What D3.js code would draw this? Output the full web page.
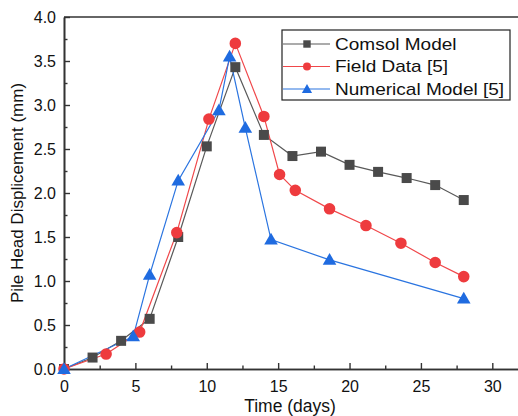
<!DOCTYPE html>
<html>
<head>
<meta charset="utf-8">
<script src="https://cdn.jsdelivr.net/npm/d3@7"></script>
<style>
  body { margin: 0; background: #fff; }
  text { font-family: "Liberation Sans", Arial, sans-serif; }
</style>
</head>
<body>
<div class="chart__container"></div>
<script>
// data
const comsolDays = [0, 2, 4, 6, 8, 10, 12, 14, 16, 18, 20, 22, 24, 26, 28];
const comsolDisp = [0, 0.13, 0.32, 0.57, 1.50, 2.53, 3.43, 2.66, 2.42, 2.47, 2.32, 2.24, 2.17, 2.09, 1.92];

const fieldDays = [0, 2.95, 5.3, 7.9, 10.15, 12, 14, 15.1, 16.2, 18.6, 21.15, 23.6, 26, 28];
const fieldDisp = [0, 0.17, 0.42, 1.55, 2.84, 3.70, 2.87, 2.21, 2.03, 1.82, 1.63, 1.43, 1.21, 1.05];

const numDays = [0, 4.85, 6, 8, 10.85, 11.6, 12.7, 14.5, 18.6, 28];
const numDisp = [0, 0.37, 1.07, 2.14, 2.94, 3.55, 2.74, 1.47, 1.24, 0.80];

const seriesNames = ["Comsol Model", "Field Data [5]", "Numerical Model [5]"];
const xTicks = [0, 5, 10, 15, 20, 25, 30];
const yTicks = [0, 0.5, 1.0, 1.5, 2.0, 2.5, 3.0, 3.5, 4.0];

const W = 518, H = 416;
const margin = { top: 17, right: 0, bottom: 47, left: 64 };

const x = d3.scaleLinear().domain([0, 31.8]).range([margin.left, W - margin.right]);
const y = d3.scaleLinear().domain([0, 4]).range([H - margin.bottom, margin.top]);

const svg = d3.select(".chart__container")
  .append("svg")
  .attr("width", W)
  .attr("height", H);

const series = [
  { name: seriesNames[0], xs: comsolDays, ys: comsolDisp, line: "#595959", fill: "#4a4a4a", shape: d3.symbolSquare, size: 100, legSize: 55 },
  { name: seriesNames[1], xs: fieldDays, ys: fieldDisp, line: "#f0474a", fill: "#ee3b3e", shape: d3.symbolCircle, size: 105, legSize: 50 },
  { name: seriesNames[2], xs: numDays, ys: numDisp, line: "#2a74e0", fill: "#1f6be0", shape: d3.symbolTriangle, size: 80, legSize: 45 }
];

// axes (ticks point inward)
const axisColor = "#333";
const xAxis = svg.append("g")
  .attr("transform", `translate(0,${y(0)})`)
  .call(d3.axisBottom(x).tickValues(xTicks).tickFormat(d3.format("d")).tickSizeInner(-6).tickSizeOuter(0).tickPadding(12));
const xMinor = svg.append("g")
  .attr("transform", `translate(0,${y(0)})`)
  .call(d3.axisBottom(x).tickValues(d3.range(2.5, 31, 5)).tickFormat("").tickSizeInner(-3.5).tickSizeOuter(0));

const yAxis = svg.append("g")
  .attr("transform", `translate(${x(0)},0)`)
  .call(d3.axisLeft(y).tickValues(yTicks).tickFormat(d3.format(".1f")).tickSizeInner(-6).tickSizeOuter(0).tickPadding(8));
const yMinor = svg.append("g")
  .attr("transform", `translate(${x(0)},0)`)
  .call(d3.axisLeft(y).tickValues(d3.range(0.25, 4, 0.5)).tickFormat("").tickSizeInner(-3.5).tickSizeOuter(0));

[xAxis, xMinor, yAxis, yMinor].forEach(g => {
  g.select(".domain").attr("stroke", axisColor).attr("stroke-width", 1.6);
  g.selectAll(".tick line").attr("stroke", axisColor).attr("stroke-width", 1.4);
  g.selectAll(".tick text").attr("fill", "#111").style("font-size", "16px");
});

// top border
svg.append("line")
  .attr("x1", x(0)).attr("x2", W)
  .attr("y1", y(4)).attr("y2", y(4))
  .attr("stroke", axisColor).attr("stroke-width", 1.6);

// lines and markers
series.forEach(s => {
  const pts = s.xs.map((d, i) => [d, s.ys[i]]);
  const line = d3.line().x(d => x(d[0])).y(d => y(d[1]));
  svg.append("path")
    .datum(pts)
    .attr("fill", "none")
    .attr("stroke", s.line)
    .attr("stroke-width", 1.2)
    .attr("d", line);
});

series.forEach(s => {
  const pts = s.xs.map((d, i) => [d, s.ys[i]]);
  svg.append("g")
    .selectAll("path")
    .data(pts)
    .enter()
    .append("path")
    .attr("transform", d => `translate(${x(d[0])},${y(d[1]) + (s.shape === d3.symbolTriangle ? 1 : 0)})`)
    .attr("d", d3.symbol().type(s.shape).size(s.size))
    .attr("fill", s.fill);
});

// legend
const legend = svg.append("g").attr("transform", "translate(282,30)");
legend.append("rect")
  .attr("width", 228).attr("height", 70)
  .attr("fill", "#fff").attr("stroke", "#222").attr("stroke-width", 1.2);
series.forEach((s, i) => {
  const row = legend.append("g").attr("transform", `translate(0,${14 + i * 22.5})`);
  row.append("line").attr("x1", 1).attr("x2", 48).attr("y1", 0).attr("y2", 0)
    .attr("stroke", s.line).attr("stroke-width", 1.2);
  row.append("path")
    .attr("transform", `translate(25,${s.shape === d3.symbolTriangle ? 1 : 0})`)
    .attr("d", d3.symbol().type(s.shape).size(s.legSize))
    .attr("fill", s.fill);
  row.append("text")
    .attr("transform", "translate(53,0) scale(1.12,1)")
    .attr("dy", "0.35em")
    .style("font-size", "17px").attr("fill", "#111")
    .text(s.name);
});

// axis titles
svg.append("text")
  .attr("x", 290).attr("y", 412)
  .attr("text-anchor", "middle")
  .style("font-size", "17.5px").attr("fill", "#111")
  .text("Time (days)");

svg.append("text")
  .attr("transform", `translate(23,${(y(0) + y(4)) / 2}) rotate(-90)`)
  .attr("text-anchor", "middle")
  .style("font-size", "17px").attr("fill", "#111")
  .text("Pile Head Displicement (mm)");
</script>
</body>
</html>
